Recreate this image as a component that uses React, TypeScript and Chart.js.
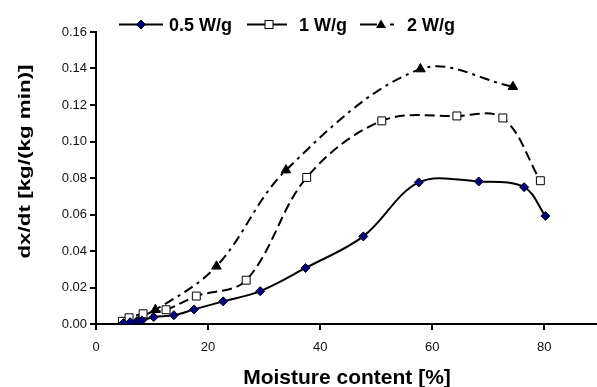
import React, { useEffect, useRef } from "react";
import { Chart, registerables } from "chart.js";

Chart.register(...registerables);

const seriesNames = ["0.5 W/g", "1 W/g", "2 W/g"];

const moisture05 = [4.9, 6.1, 7.3, 8.2, 10.3, 13.9, 17.5, 22.7, 29.3, 37.4, 47.7, 57.6, 68.3, 76.4, 80.2];
const rate05 = [0.0005, 0.001, 0.0015, 0.002, 0.0038, 0.0048, 0.008, 0.0124, 0.018, 0.0307, 0.048, 0.0776, 0.0781, 0.075, 0.0592];

const moisture1 = [4.7, 5.9, 8.4, 12.5, 17.9, 26.8, 37.6, 51.0, 64.4, 72.6, 79.3];
const rate1 = [0.0015, 0.0034, 0.0056, 0.0078, 0.0153, 0.024, 0.0803, 0.1113, 0.114, 0.1129, 0.0785];

const moisture2 = [4.8, 10.6, 21.5, 33.9, 57.9, 74.4];
const rate2 = [0.0005, 0.0078, 0.0316, 0.0843, 0.1397, 0.13];

const xTitle = "Moisture content [%]";
const yTitle = "dx/dt [kg/(kg min)]";

const FONT = '"Liberation Sans", Arial, sans-serif';

function toPoints(xs: number[], ys: number[]) {
  return xs.map((x, i) => ({ x, y: ys[i] }));
}

const overlay = {
  id: "overlay",
  afterDraw(chart: any) {
    const ctx = chart.ctx as CanvasRenderingContext2D;
    ctx.save();
    ctx.fillStyle = "#000";
    ctx.strokeStyle = "#000";

    // legend
    const ly = 24.5;
    ctx.lineWidth = 2;
    ctx.setLineDash([]);
    ctx.beginPath();
    ctx.moveTo(119, ly);
    ctx.lineTo(163, ly);
    ctx.stroke();
    ctx.beginPath();
    ctx.moveTo(247, ly);
    ctx.lineTo(287, ly);
    ctx.stroke();
    ctx.beginPath();
    ctx.moveTo(360, ly);
    ctx.lineTo(377, ly);
    ctx.moveTo(390, ly);
    ctx.lineTo(394, ly);
    ctx.stroke();

    ctx.lineWidth = 1;
    // diamond
    ctx.beginPath();
    ctx.moveTo(141, ly - 4.5);
    ctx.lineTo(145.5, ly);
    ctx.lineTo(141, ly + 4.5);
    ctx.lineTo(136.5, ly);
    ctx.closePath();
    ctx.fillStyle = "#000080";
    ctx.fill();
    ctx.stroke();
    // square
    ctx.fillStyle = "#fff";
    ctx.fillRect(265, ly - 4, 8, 8);
    ctx.strokeRect(265, ly - 4, 8, 8);
    // triangle
    ctx.fillStyle = "#000";
    ctx.beginPath();
    ctx.moveTo(381, ly - 5);
    ctx.lineTo(386, ly + 3.5);
    ctx.lineTo(376, ly + 3.5);
    ctx.closePath();
    ctx.fill();

    ctx.font = "bold 18px " + FONT;
    ctx.textAlign = "left";
    ctx.textBaseline = "alphabetic";
    ctx.fillStyle = "#000";
    ctx.fillText(seriesNames[0], 169, 31);
    ctx.fillText(seriesNames[1], 299, 31);
    ctx.fillText(seriesNames[2], 407, 31);

    // x title
    ctx.font = "bold 21px " + FONT;
    ctx.textAlign = "center";
    ctx.fillText(xTitle, 347, 384);

    // y title
    ctx.save();
    ctx.translate(30, 161.5);
    ctx.rotate(-Math.PI / 2);
    ctx.scale(1.4, 1);
    ctx.font = "bold 16px " + FONT;
    ctx.textAlign = "center";
    ctx.fillText(yTitle, 0, 0);
    ctx.restore();

    ctx.restore();
  },
};

export default function App() {
  const ref = useRef<HTMLCanvasElement | null>(null);

  useEffect(() => {
    document.body.style.margin = "0";
    const canvas = ref.current;
    if (!canvas) return;
    const chart = new Chart(canvas, {
      type: "scatter",
      data: {
        datasets: [
          {
            label: seriesNames[0],
            data: toPoints(moisture05, rate05),
            showLine: true,
            borderColor: "#000",
            borderWidth: 2,
            tension: 0.35,
            pointStyle: "rectRot",
            pointRadius: 4.5,
            pointBackgroundColor: "#000080",
            pointBorderColor: "#000",
            pointBorderWidth: 1,
          },
          {
            label: seriesNames[1],
            data: toPoints(moisture1, rate1),
            showLine: true,
            borderColor: "#000",
            borderWidth: 2,
            borderDash: [10, 5],
            tension: 0.35,
            pointStyle: "rect",
            pointRadius: 5.6,
            pointBackgroundColor: "#fff",
            pointBorderColor: "#000",
            pointBorderWidth: 1,
          },
          {
            label: seriesNames[2],
            data: toPoints(moisture2, rate2),
            showLine: true,
            borderColor: "#000",
            borderWidth: 2,
            borderDash: [10, 5, 3, 5],
            tension: 0.35,
            pointStyle: "triangle",
            pointRadius: 5.5,
            pointBackgroundColor: "#000",
            pointBorderColor: "#000",
            pointBorderWidth: 1,
          },
        ],
      },
      options: {
        responsive: false,
        animation: false,
        layout: { padding: { top: 32, left: 0, right: 0, bottom: 0 } },
        plugins: {
          legend: { display: false },
          tooltip: { enabled: false },
          title: { display: false },
        },
        scales: {
          x: {
            type: "linear",
            min: 0,
            max: 89.3,
            afterFit: (s: any) => {
              s.height = 63;
            },
            ticks: {
              stepSize: 20,
              includeBounds: false,
              color: "#111",
              font: { size: 13, family: FONT },
              padding: 10,
            },
            grid: {
              display: true,
              drawOnChartArea: false,
              drawTicks: true,
              tickLength: 6,
              color: "#000",
              lineWidth: 2,
            },
            border: { display: true, color: "#000", width: 2 },
          },
          y: {
            type: "linear",
            min: 0,
            max: 0.16,
            afterFit: (s: any) => {
              s.width = 96;
            },
            ticks: {
              stepSize: 0.02,
              color: "#111",
              font: { size: 13, family: FONT },
              padding: 3,
              callback: (v: any) => Number(v).toFixed(2),
            },
            grid: {
              display: true,
              drawOnChartArea: false,
              drawTicks: true,
              tickLength: 6,
              color: "#000",
              lineWidth: 2,
            },
            border: { display: true, color: "#000", width: 2 },
          },
        },
      },
      plugins: [overlay],
    });
    return () => chart.destroy();
  }, []);

  return (
    <div style={{ width: 597, height: 387, overflow: "hidden" }}>
      <canvas ref={ref} width={603} height={387} style={{ display: "block" }} />
    </div>
  );
}
